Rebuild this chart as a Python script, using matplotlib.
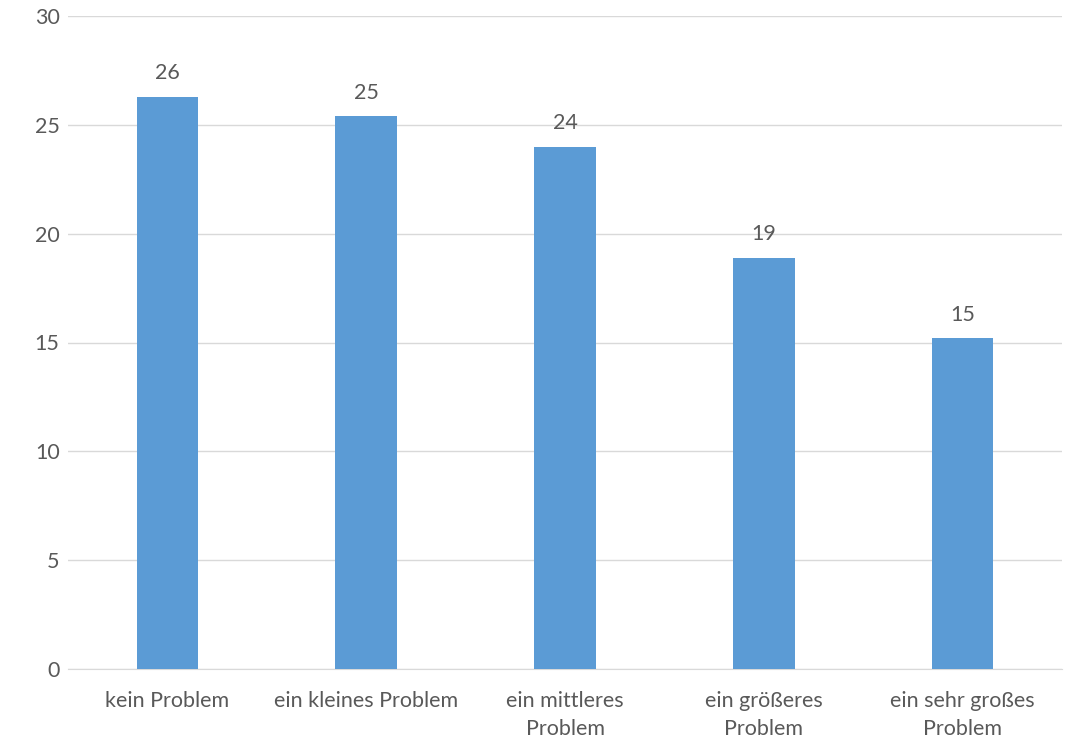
import numpy as np
import matplotlib.pyplot as plt

plt.rcParams['font.family'] = ['Lato', 'DejaVu Sans']

# data
categories = ["kein Problem", "ein kleines Problem", "ein mittleres\nProblem",
              "ein größeres\nProblem", "ein sehr großes\nProblem"]
values = [26.3, 25.4, 24.0, 18.9, 15.2]
value_labels = ["26", "25", "24", "19", "15"]

txt = "#595959"
fig = plt.figure(figsize=(10.69, 7.40), dpi=100)
ax = fig.add_axes([68 / 1069, 1 - 669 / 740, (1062 - 68) / 1069, (669 - 16) / 740])

x = np.arange(len(categories))
ax.bar(x, values, width=0.31, color="#5B9BD5", zorder=3)

for xi, v, lab in zip(x, values, value_labels):
    ax.text(xi, v + 0.62, lab, ha="center", va="bottom", fontsize=15.5, color=txt)

ax.set_xlim(-0.5, len(categories) - 0.5)
ax.set_ylim(0, 30)
ax.set_yticks(range(0, 31, 5))
ax.set_xticks(x)
ax.set_xticklabels(categories, fontsize=15.5, color=txt, linespacing=1.5)
ax.tick_params(axis="y", labelsize=15.5, labelcolor=txt, length=0, pad=6)
ax.tick_params(axis="x", length=0, pad=16)
ax.grid(axis="y", color="#D9D9D9", linewidth=1, zorder=0)
for s in ["top", "right", "left"]:
    ax.spines[s].set_visible(False)
ax.spines["bottom"].set_color("#D9D9D9")

fig.savefig("out.png", dpi=100)
